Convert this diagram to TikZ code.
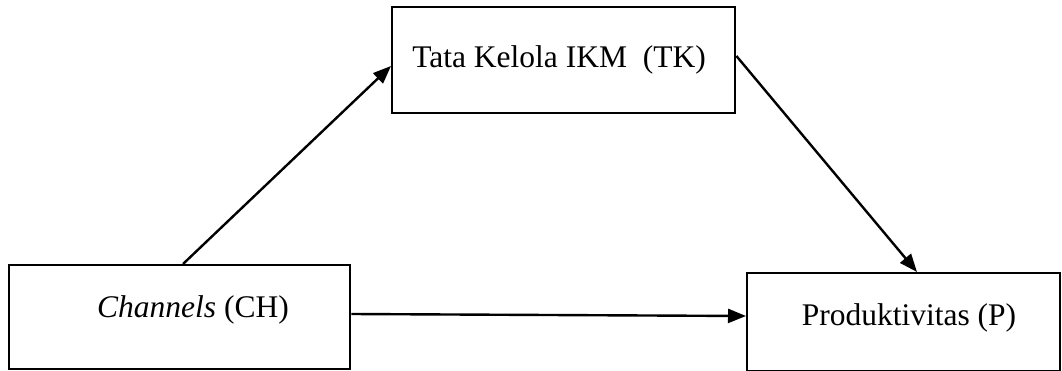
\documentclass[tikz,border=0pt]{standalone}
\usepackage{fontspec}
\setmainfont{Liberation Serif}
\usetikzlibrary{arrows.meta}
\begin{document}
\begin{tikzpicture}[x=1pt,y=-1pt,
  box/.style={draw=black, line width=2.4pt, inner sep=0pt},
  lbl/.style={font=\fontsize{31.5}{37}\selectfont},
  conn/.style={line width=2.4pt, -{Triangle[length=18pt,width=14pt]}}]
\useasboundingbox (0,0) rectangle (1062,371);
\node[box, minimum width=343pt, minimum height=106pt, anchor=north west] (tk) at (391,6) {};
\node[lbl] (tkl) at (559,60) {Tata Kelola IKM\ \ (TK)};
\node[box, minimum width=341pt, minimum height=104pt, anchor=north west] (ch) at (8,264) {};
\node[lbl] (chl) at (193,310) {\textit{Channels} (CH)};
\node[box, minimum width=313pt, minimum height=98pt, anchor=north west] (p) at (746,272) {};
\node[lbl] (pl) at (909,318) {Produktivitas (P)};
\draw[conn] (ch.north west -| 183,0) -- (tk.west |- 0,66);
\draw[conn] (tk.east |- 0,56) -- (p.north west -| 917,0);
\draw[conn] (ch.east |- 0,314) -- (p.west |- 0,316);
\end{tikzpicture}
\end{document}
